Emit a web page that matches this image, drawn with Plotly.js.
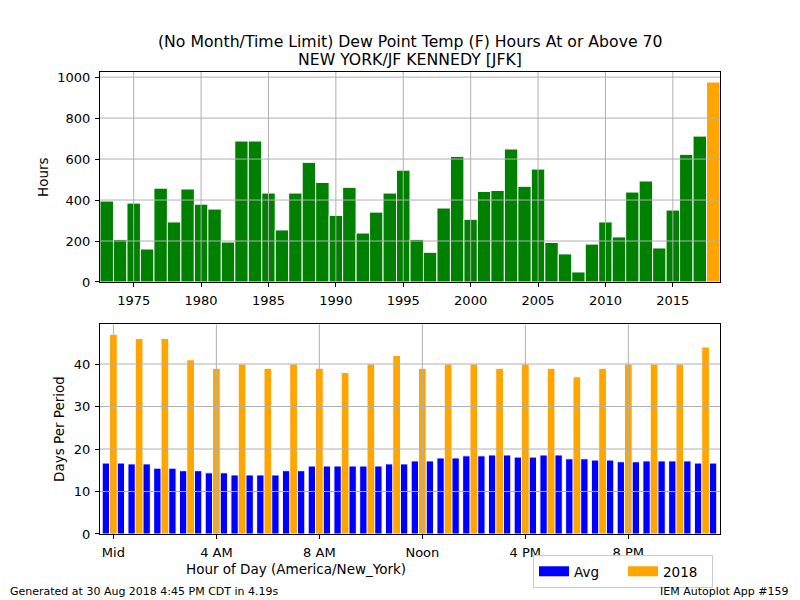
<!DOCTYPE html>
<html>
<head>
<meta charset="utf-8">
<script src="https://cdn.plot.ly/plotly-3.0.1.min.js"></script>
<style>html,body{margin:0;padding:0;background:#fff;}#chart{width:800px;height:600px;}</style>
</head>
<body>
<div id="chart"></div>
<script>
// ---- data ----
var years = [1973,1974,1975,1976,1977,1978,1979,1980,1981,1982,1983,1984,1985,1986,1987,1988,
             1989,1990,1991,1992,1993,1994,1995,1996,1997,1998,1999,2000,2001,2002,2003,2004,
             2005,2006,2007,2008,2009,2010,2011,2012,2013,2014,2015,2016,2017,2018];
var hoursAbove = [395,208,385,161,458,293,454,380,356,195,688,688,434,254,434,584,
                  486,325,462,239,341,434,546,208,145,361,613,306,442,447,649,467,
                  551,193,137,49,185,293,220,439,493,166,351,623,712,976];
var hourOfDay = [0,1,2,3,4,5,6,7,8,9,10,11,12,13,14,15,16,17,18,19,20,21,22,23];
var avgDays = [16.7,16.5,15.5,14.9,14.4,13.9,13.9,14.9,16.0,16.0,16.0,16.5,
               17.2,17.9,18.4,18.6,18.1,18.6,17.7,17.4,17.0,17.2,17.2,16.7];
var days2018 = [47,46,46,41,39,40,39,40,39,38,40,42,39,40,40,39,40,39,37,39,40,40,40,44];
var yearTicks = [1975,1980,1985,1990,1995,2000,2005,2010,2015];
var hoursTicks = [0,200,400,600,800,1000];
var hourTickVals = [0,4,8,12,16,20];
var hourTickText = ['Mid','4 AM','8 AM','Noon','4 PM','8 PM'];
var daysTicks = [0,10,20,30,40];
var highlightYear = 2018;
var titleLines = ['(No Month/Time Limit) Dew Point Temp (F) Hours At or Above 70',
                  'NEW YORK/JF KENNEDY [JFK]'];

// ---- style ----
var FONT = 'DejaVu Sans, Liberation Sans, sans-serif';
var GRID = '#b0b0b0';
var BLUE = '#0000ff', ORANGE = '#ffa500', GREEN = '#008000';

var traces = [
  {
    type: 'bar', x: years, y: hoursAbove, width: 1.0,
    marker: {color: years.map(function(y){return y === highlightYear ? ORANGE : GREEN;}),
             line: {color: '#ffffff', width: 1}},
    xaxis: 'x', yaxis: 'y', showlegend: false
  },
  {
    type: 'bar', x: hourOfDay, y: avgDays, width: 0.87, name: 'Avg', showlegend: false,
    marker: {color: BLUE, line: {color: '#ffffff', width: 1}},
    xaxis: 'x2', yaxis: 'y2'
  },
  {
    type: 'bar', x: hourOfDay, y: days2018, width: 0.3, name: '2018', showlegend: false,
    marker: {color: ORANGE, line: {color: '#ffffff', width: 1}},
    xaxis: 'x2', yaxis: 'y2'
  },
  // legend entries (wide patches like the original)
  {type: 'scatter', mode: 'lines', x: [null], y: [null], name: 'Avg',
   line: {color: BLUE, width: 14}, xaxis: 'x2', yaxis: 'y2'},
  {type: 'scatter', mode: 'lines', x: [null], y: [null], name: '2018',
   line: {color: ORANGE, width: 14}, xaxis: 'x2', yaxis: 'y2'}
];

var topRange = [0, 1025];
var botRange = [0, 49.35];

function gridShapes(xref, yref, xvals, yvals, yr) {
  var s = [];
  xvals.forEach(function(v){
    s.push({type:'line', layer:'above', xref:xref, yref:yref + ' domain', x0:v, x1:v, y0:0, y1:1,
            line:{color:GRID, width:1}});
  });
  yvals.filter(function(v){return v > yr[0] && v < yr[1];}).forEach(function(v){
    s.push({type:'line', layer:'above', xref:xref + ' domain', yref:yref, x0:0, x1:1, y0:v, y1:v,
            line:{color:GRID, width:1}});
  });
  return s;
}
var shapes = gridShapes('x', 'y', yearTicks, hoursTicks, topRange)
  .concat(gridShapes('x2', 'y2', hourTickVals, daysTicks, botRange));

var axisCommon = {
  showline: true, mirror: true, linecolor: '#000', linewidth: 1,
  ticks: 'outside', ticklen: 4, tickwidth: 1, tickcolor: '#000',
  showgrid: false, zeroline: false, ticklabelstandoff: 2,
  tickfont: {family: FONT, size: 13, color: '#000'}
};
function ax(o){ var r = {}; for (var k in axisCommon) r[k] = axisCommon[k]; for (var k2 in o) r[k2] = o[k2]; return r; }

function pxY(p){ return (534 - p) / 462; }
function pxX(p){ return (p - 100) / 620; }

var layout = {
  width: 800, height: 600,
  margin: {l: 100, r: 80, t: 72, b: 66},
  paper_bgcolor: '#fff', plot_bgcolor: '#fff',
  font: {family: FONT, color: '#000'},
  barmode: 'overlay',
  xaxis: ax({domain: [0, 1], range: [1972.5, 2018.5], tickvals: yearTicks, anchor: 'y'}),
  yaxis: ax({domain: [0.5455, 1], range: topRange, tickvals: hoursTicks, anchor: 'x'}),
  xaxis2: ax({domain: [0, 1], range: [-0.52, 23.56], tickvals: hourTickVals, ticktext: hourTickText, anchor: 'y2'}),
  yaxis2: ax({domain: [0, 0.4539], range: botRange, tickvals: daysTicks, anchor: 'x2'}),
  legend: {
    orientation: 'h', x: pxX(713), xanchor: 'right', y: pxY(555), yanchor: 'top',
    bordercolor: '#cccccc', borderwidth: 1, bgcolor: '#fff',
    font: {family: FONT, size: 13.5, color: '#000'}, itemwidth: 30,
    entrywidth: 44, entrywidthmode: 'pixels',
    tracegroupgap: 0
  },
  shapes: shapes,
  annotations: [
    {text: titleLines[0], xref: 'paper', yref: 'paper', x: 0.5, y: pxY(41), xanchor: 'center', yanchor: 'middle',
     showarrow: false, font: {family: FONT, size: 15.7}},
    {text: titleLines[1], xref: 'paper', yref: 'paper', x: 0.5, y: pxY(59.5), xanchor: 'center', yanchor: 'middle',
     showarrow: false, font: {family: FONT, size: 15.7}},
    {text: 'Hours', xref: 'paper', yref: 'paper', x: pxX(43), y: 0.7727, textangle: -90,
     xanchor: 'center', yanchor: 'middle', showarrow: false, font: {family: FONT, size: 13.5}},
    {text: 'Days Per Period', xref: 'paper', yref: 'paper', x: pxX(59), y: 0.2273, textangle: -90,
     xanchor: 'center', yanchor: 'middle', showarrow: false, font: {family: FONT, size: 13.5}},
    {text: 'Hour of Day (America/New_York)', xref: 'paper', yref: 'paper', x: pxX(296),
     y: pxY(569), xanchor: 'center', yanchor: 'middle', showarrow: false, font: {family: FONT, size: 13.5}},
    {text: 'Generated at 30 Aug 2018 4:45 PM CDT in 4.19s', xref: 'paper', yref: 'paper',
     x: pxX(8), y: pxY(591), xanchor: 'left', yanchor: 'middle', showarrow: false,
     font: {family: FONT, size: 11}},
    {text: 'IEM Autoplot App #159', xref: 'paper', yref: 'paper',
     x: pxX(791), y: pxY(591), xanchor: 'right', yanchor: 'middle', showarrow: false,
     font: {family: FONT, size: 11}}
  ]
};

Plotly.newPlot('chart', traces, layout, {displayModeBar: false, staticPlot: true});
</script>
</body>
</html>
